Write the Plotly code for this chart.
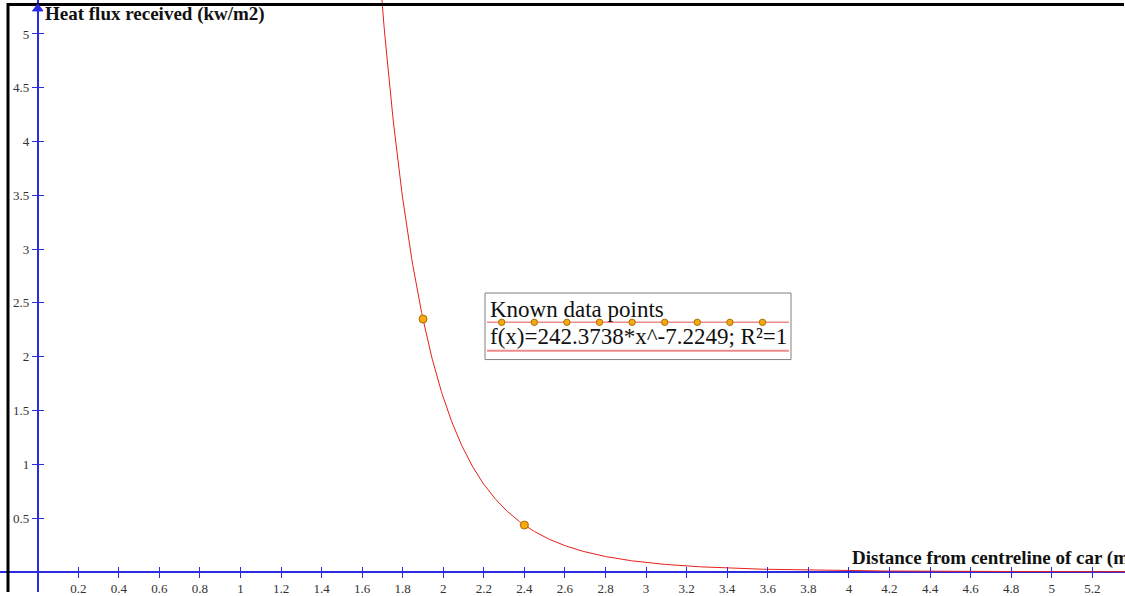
import numpy as np
import plotly.graph_objects as go

# ---- data ----
coef_a = 242.3738
coef_b = -7.2249
known_x = [1.9, 2.4]
known_y = [2.35, 0.435]
x_tickvals = [0.2, 0.4, 0.6, 0.8, 1, 1.2, 1.4, 1.6, 1.8, 2, 2.2, 2.4, 2.6, 2.8, 3,
              3.2, 3.4, 3.6, 3.8, 4, 4.2, 4.4, 4.6, 4.8, 5, 5.2]
x_ticktext = ["0.2", "0.4", "0.6", "0.8", "1", "1.2", "1.4", "1.6", "1.8", "2", "2.2", "2.4",
              "2.6", "2.8", "3", "3.2", "3.4", "3.6", "3.8", "4", "4.2", "4.4", "4.6", "4.8",
              "5", "5.2"]
y_tickvals = [0.5, 1, 1.5, 2, 2.5, 3, 3.5, 4, 4.5, 5]
y_ticktext = ["0.5", "1", "1.5", "2", "2.5", "3", "3.5", "4", "4.5", "5"]
x_title = "Distance from centreline of car (m)"
y_title = "Heat flux received (kw/m2)"
legend_title = "Known data points"
fit_label = "f(x)=242.3738*x^-7.2249; R²=1"

W, H = 1125, 596
X_RANGE = [-0.1859, 5.3614]
Y_RANGE = [-0.1874, 5.3158]
AXC = "#2b2be0"
SERIF = "Liberation Serif, Times New Roman, serif"

def px(x):
    return x / W

def py(y):
    return 1 - y / H

curve_x = np.linspace(1.6, 5.5, 800)
curve_y = coef_a * curve_x ** coef_b

fig = go.Figure()
fig.add_trace(go.Scatter(x=curve_x, y=curve_y, mode="lines",
                         line=dict(color="#e8201a", width=1), showlegend=False,
                         hoverinfo="skip"))
fig.add_trace(go.Scatter(x=known_x, y=known_y, mode="markers",
                         marker=dict(size=8, color="#f5aa10",
                                     line=dict(color="#b06a00", width=1)),
                         showlegend=False))
# dummy trace so overlay axes are drawn
fig.add_trace(go.Scatter(x=[None], y=[None], xaxis="x2", yaxis="y2", showlegend=False))

xpos = -Y_RANGE[0] / (Y_RANGE[1] - Y_RANGE[0])
ypos = -X_RANGE[0] / (X_RANGE[1] - X_RANGE[0])

common_x = dict(range=X_RANGE, showgrid=False, zeroline=False, tickvals=x_tickvals,
                ticktext=x_ticktext, tickcolor=AXC, ticklen=5, tickwidth=1,
                anchor="free", position=xpos, fixedrange=True)
common_y = dict(range=Y_RANGE, showgrid=False, zeroline=False, tickvals=y_tickvals,
                ticktext=y_ticktext, tickcolor=AXC, ticklen=5, tickwidth=1,
                anchor="free", position=ypos, fixedrange=True)

fig.update_layout(
    width=W, height=H, autosize=False,
    margin=dict(l=0, r=0, t=0, b=0, pad=0),
    paper_bgcolor="white", plot_bgcolor="white",
    xaxis=dict(**common_x, ticks="outside", showline=True, linecolor=AXC, linewidth=1.5,
               layer="below traces",
               tickfont=dict(family=SERIF, size=13, color="#333")),
    yaxis=dict(**common_y, ticks="outside", showline=True, linecolor=AXC, linewidth=1.5,
               layer="below traces",
               tickfont=dict(family=SERIF, size=13, color="#333")),
    xaxis2=dict(**common_x, overlaying="x", ticks="inside", showline=False,
                showticklabels=False),
    yaxis2=dict(**common_y, overlaying="y", ticks="inside", showline=False,
                showticklabels=False),
)

shapes = []
# image frame
shapes.append(dict(type="line", xref="paper", yref="paper", x0=px(8), x1=px(8), y0=0, y1=py(3),
                   line=dict(color="black", width=3)))
shapes.append(dict(type="line", xref="paper", yref="paper", x0=px(7), x1=px(1124), y0=py(4.5), y1=py(4.5),
                   line=dict(color="black", width=3)))
# arrow head on y axis
shapes.append(dict(type="path", xref="paper", yref="paper",
                   path=f"M {px(37.7)} {py(4)} L {px(32.5)} {py(11)} L {px(43)} {py(11)} Z",
                   fillcolor=AXC, line=dict(color=AXC, width=1)))
# legend box
shapes.append(dict(type="rect", xref="paper", yref="paper", x0=px(485), x1=px(791),
                   y0=py(362), y1=py(295), line=dict(color="#808080", width=1),
                   fillcolor="white"))
shapes.append(dict(type="line", xref="paper", yref="paper", x0=px(487), x1=px(789),
                   y0=py(324.5), y1=py(324.5), line=dict(color="#f08a8a", width=1.5)))
shapes.append(dict(type="line", xref="paper", yref="paper", x0=px(487), x1=px(789),
                   y0=py(353), y1=py(353), line=dict(color="#f08a8a", width=2)))
for cx in [501.7, 534.3, 566.9, 599.5, 632.1, 664.7, 697.3, 729.9, 762.5]:
    shapes.append(dict(type="circle", xref="paper", yref="paper",
                       x0=px(cx - 3.2), x1=px(cx + 3.2), y0=py(324.5 + 3.2), y1=py(324.5 - 3.2),
                       fillcolor="#f5aa10", line=dict(color="#b06a00", width=1)))
fig.update_layout(shapes=shapes)

annotations = [
    dict(text=y_title, xref="paper", yref="paper", x=px(43), y=py(14), xanchor="left",
         yanchor="middle", showarrow=False,
         font=dict(family=SERIF, size=19, color="#111", weight="bold")),
    dict(text=x_title, xref="paper", yref="paper", x=px(850), y=py(562), xanchor="left",
         yanchor="middle", showarrow=False,
         font=dict(family=SERIF, size=19, color="#111", weight="bold")),
    dict(text=legend_title, xref="paper", yref="paper", x=px(488), y=py(312), xanchor="left",
         yanchor="middle", showarrow=False,
         font=dict(family=SERIF, size=23, color="#111")),
    dict(text=fit_label, xref="paper", yref="paper", x=px(488), y=py(339), xanchor="left",
         yanchor="middle", showarrow=False,
         font=dict(family=SERIF, size=23, color="#111")),
]
fig.update_layout(annotations=annotations)

fig.write_html("out.html", post_script="document.body.style.margin='0';",
               config={"displayModeBar": False})
